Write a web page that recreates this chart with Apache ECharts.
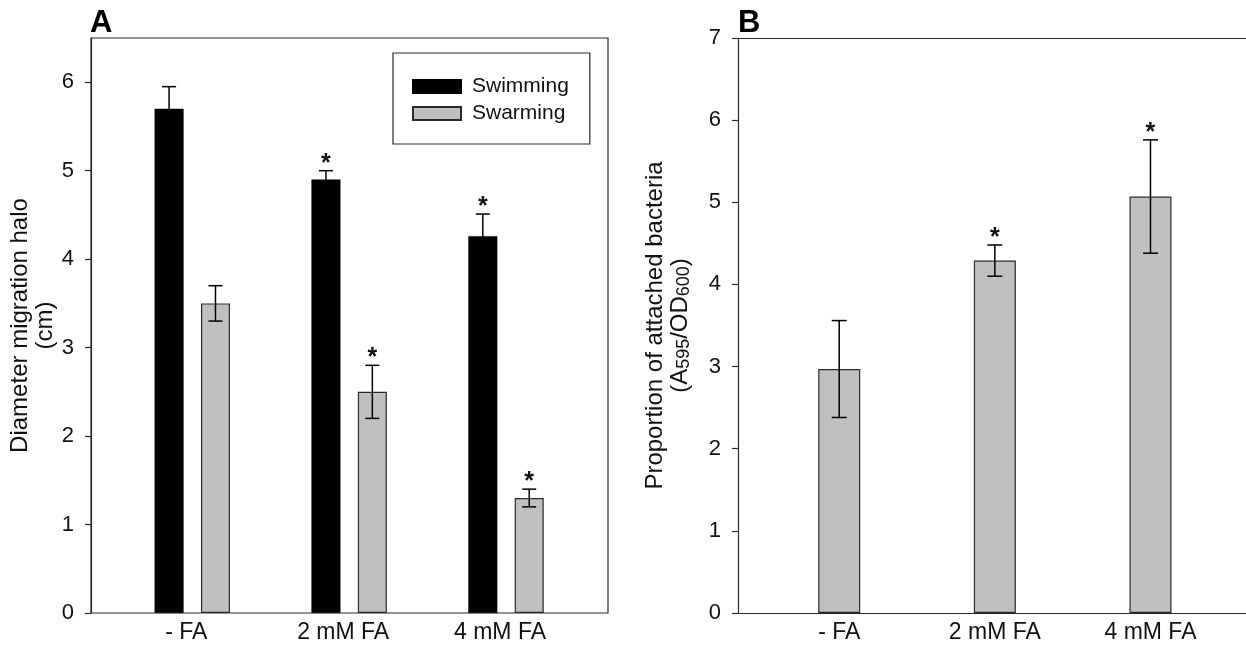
<!DOCTYPE html>
<html><head><meta charset="utf-8">
<script src="https://cdn.jsdelivr.net/npm/echarts@6/dist/echarts.min.js"></script>
<style>html,body{margin:0;padding:0;background:#fff}#c{width:1246px;height:645px}</style>
</head><body><div id="c"></div>
<script>
// ---- data ----
const categories = ['- FA', '2 mM FA', '4 mM FA'];
const swimming = [5.70, 4.90, 4.26];
const swimmingErr = [0.25, 0.10, 0.25];
const swimmingSig = [0, 1, 1];
const swarming = [3.50, 2.50, 1.30];
const swarmingErr = [0.20, 0.30, 0.10];
const swarmingSig = [0, 1, 1];
const attached = [2.97, 4.29, 5.07];
const attachedErr = [0.59, 0.19, 0.69];
const attachedSig = [0, 1, 1];
const ticksA = [0, 1, 2, 3, 4, 5, 6];
const ticksB = [0, 1, 2, 3, 4, 5, 6, 7];

// ---- style ----
const FONT = '"Liberation Sans", Arial, Helvetica, sans-serif';
const INK = '#111';
const LINE = {color: '#2a2a2a', width: 1.2};

function errRows(vals, errs, sig) {
  return vals.map((v, i) => [i, v - errs[i], v + errs[i], sig[i]]);
}
function errorRenderer(offset, capHalf) {
  return function (params, api) {
    const idx = api.value(0);
    const x = api.coord([idx, 0])[0] + offset;
    const yLo = api.coord([idx, api.value(1)])[1];
    const yHi = api.coord([idx, api.value(2)])[1];
    const st = {stroke: '#000', lineWidth: 1.5};
    const ch = [
      {type: 'line', shape: {x1: x, y1: yLo, x2: x, y2: yHi}, style: st},
      {type: 'line', shape: {x1: x - capHalf, y1: yHi, x2: x + capHalf, y2: yHi}, style: st},
      {type: 'line', shape: {x1: x - capHalf, y1: yLo, x2: x + capHalf, y2: yLo}, style: st}
    ];
    if (api.value(3)) {
      ch.push({type: 'text', x: x, y: yHi - 7,
        style: {text: '*', fontSize: 25, fontWeight: 'bold', fontFamily: FONT, fill: INK, align: 'center', verticalAlign: 'middle'}});
    }
    return {type: 'group', children: ch};
  };
}

const frameY = (max, ticks, name, gap, rich) => ({
  type: 'value', min: 0, max: max, interval: 1,
  axisLine: {show: true, lineStyle: LINE},
  axisTick: {show: true, inside: false, length: 6, lineStyle: LINE, customValues: ticks},
  axisLabel: {customValues: ticks, margin: 17, fontSize: 22, color: INK, fontFamily: FONT},
  splitLine: {show: false},
  name: name, nameLocation: 'middle', nameRotate: 90, nameGap: gap,
  nameTextStyle: Object.assign({fontSize: 24, lineHeight: 25, color: INK, fontFamily: FONT, align: 'center'}, rich ? {rich: rich} : {})
});
const hiddenY = (max) => ({type: 'value', min: 0, max: max, show: false, splitLine: {show: false}});
const catX = (pad) => ({
  type: 'category', data: categories,
  axisLine: {show: false}, axisTick: {show: false}, splitLine: {show: false},
  axisLabel: {fontSize: 23, color: INK, fontFamily: FONT, margin: 8, padding: pad}
});
const hiddenX = () => ({type: 'value', min: 0, max: 1, show: false, splitLine: {show: false}});
const lineX = (pos) => ({type: 'value', min: 0, max: 1, position: pos, show: true,
  axisLine: {show: true, onZero: false, lineStyle: LINE}, axisTick: {show: false},
  axisLabel: {show: false}, splitLine: {show: false}});

const chart = echarts.init(document.getElementById('c'), null, {renderer: 'canvas'});
chart.setOption({
  animation: false,
  backgroundColor: '#fff',
  textStyle: {fontFamily: FONT},
  title: [
    {text: 'A', left: 90, top: 8, padding: 0, textStyle: {fontSize: 31, fontWeight: 'bold', color: '#000', fontFamily: FONT}},
    {text: 'B', left: 738, top: 8, padding: 0, textStyle: {fontSize: 31, fontWeight: 'bold', color: '#000', fontFamily: FONT}}
  ],
  legend: {
    data: ['Swimming', 'Swarming'], orient: 'vertical', left: 393, top: 53,
    borderColor: '#2a2a2a', borderWidth: 1.2, padding: [23, 21, 20, 19],
    itemWidth: 48, itemHeight: 13, itemGap: 6, selectedMode: false, icon: 'rect',
    textStyle: {fontSize: 21, lineHeight: 21, color: INK, fontFamily: FONT, padding: [0, 0, 0, 6]}
  },
  grid: [
    {left: 91, top: 38, width: 517, height: 575, show: true, borderColor: '#2a2a2a', borderWidth: 1.2, backgroundColor: 'transparent', outerBoundsMode: 'none'},
    {left: 113.85, top: 38, width: 470.6, height: 575, outerBoundsMode: 'none'},
    {left: 738, top: 38, width: 540, height: 575, outerBoundsMode: 'none'},
    {left: 761.4, top: 38, width: 466.9, height: 575, outerBoundsMode: 'none'}
  ],
  xAxis: [
    Object.assign(hiddenX(), {gridIndex: 0}),
    Object.assign(catX([0, 12, 0, 0]), {gridIndex: 1}),
    Object.assign(lineX('bottom'), {gridIndex: 2}),
    Object.assign(catX(0), {gridIndex: 3}),
    Object.assign(lineX('top'), {gridIndex: 2})
  ],
  yAxis: [
    Object.assign(frameY(6.5, ticksA, 'Diameter migration halo\n(cm)', 29), {gridIndex: 0}),
    Object.assign(hiddenY(6.5), {gridIndex: 1}),
    Object.assign(frameY(7, ticksB, '{t|Proportion of attached bacteria}\n{t|(A}{s|595}{t|/OD}{s|600}{t|)}', 45, {
      t: {fontSize: 24, lineHeight: 25, color: INK, fontFamily: FONT},
      s: {fontSize: 18, lineHeight: 14, color: INK, fontFamily: FONT, verticalAlign: 'bottom'}
    }), {gridIndex: 2}),
    Object.assign(hiddenY(7), {gridIndex: 3})
  ],
  series: [
    {name: 'Swimming', type: 'bar', xAxisIndex: 1, yAxisIndex: 1, data: swimming,
      barWidth: 29, barGap: '60%', itemStyle: {color: '#000', borderColor: '#000', borderWidth: 0.5}},
    {name: 'Swarming', type: 'bar', xAxisIndex: 1, yAxisIndex: 1, data: swarming,
      barWidth: 29, barGap: '60%', itemStyle: {color: '#c0c0c0', borderColor: '#2a2a2a', borderWidth: 1.2}},
    {name: 'Attached', type: 'bar', xAxisIndex: 3, yAxisIndex: 3, data: attached,
      barWidth: 42, itemStyle: {color: '#c0c0c0', borderColor: '#2a2a2a', borderWidth: 1.2}},
    {name: 'errSwim', type: 'custom', xAxisIndex: 1, yAxisIndex: 1, z: 5,
      data: errRows(swimming, swimmingErr, swimmingSig), encode: {x: 0, y: [1, 2]},
      renderItem: errorRenderer(-23.2, 7)},
    {name: 'errSwarm', type: 'custom', xAxisIndex: 1, yAxisIndex: 1, z: 5,
      data: errRows(swarming, swarmingErr, swarmingSig), encode: {x: 0, y: [1, 2]},
      renderItem: errorRenderer(23.2, 7)},
    {name: 'errAttached', type: 'custom', xAxisIndex: 3, yAxisIndex: 3, z: 5,
      data: errRows(attached, attachedErr, attachedSig), encode: {x: 0, y: [1, 2]},
      renderItem: errorRenderer(0, 7.5)}
  ]
});
</script></body></html>
